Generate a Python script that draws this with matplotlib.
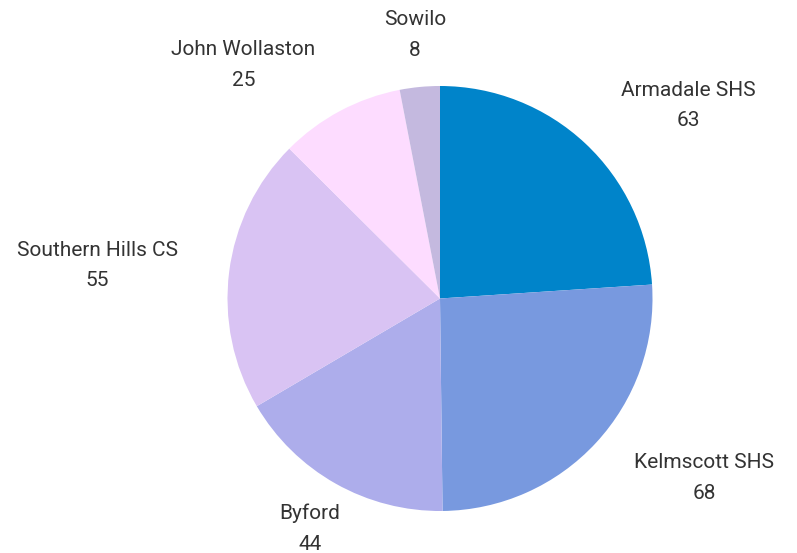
import numpy as np
import matplotlib
matplotlib.use("Agg")
import matplotlib.pyplot as plt

categories = ["Armadale SHS", "Kelmscott SHS", "Byford", "Southern Hills CS", "John Wollaston", "Sowilo"]
values = [63, 68, 44, 55, 25, 8]
colors = ["#0084CA", "#7899DF", "#ADADEB", "#D9C3F3", "#FDDCFF", "#C4B9DF"]
label_ha = ["left", "left", "center", "right", "right", "center"]

W, H = 797, 553
cx, cy = 440, 298.5
R = 212.5

fig = plt.figure(figsize=(W / 100, H / 100), dpi=100)
ax = fig.add_axes([0, 0, 1, 1])
ax.axis("off")

wedges, _ = ax.pie(values, colors=colors, startangle=90, counterclock=False,
                   radius=R, center=(0, 0), wedgeprops=dict(linewidth=0))
ax.set_xlim(-cx, W - cx)
ax.set_ylim(-(H - cy), cy)
ax.set_aspect("equal")

total = sum(values)
cum = np.cumsum([0] + values)
for i, (cat, v) in enumerate(zip(categories, values)):
    mid = (cum[i] + v / 2) / total * 2 * np.pi
    x = 1.245 * R * np.sin(mid)
    y = 1.245 * R * np.cos(mid)
    ax.text(x, y, f"{cat}\n{v}", ha=label_ha[i], va="center", multialignment="center",
            fontsize=15, family="Roboto", color="#333333",
            linespacing=1.78)

fig.savefig("out.png", dpi=100)
